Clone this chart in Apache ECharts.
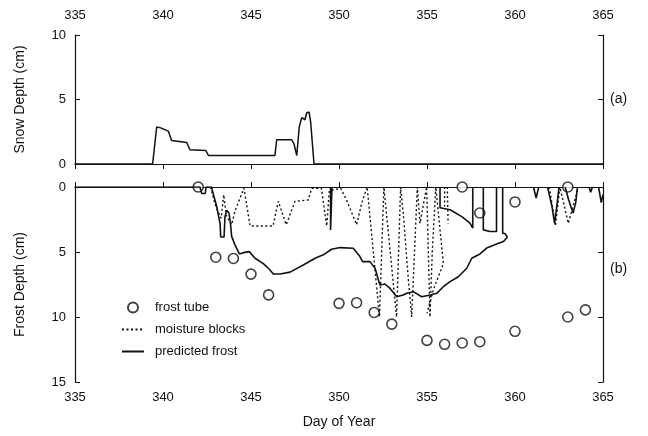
<!DOCTYPE html>
<html>
<head>
<meta charset="utf-8">
<script src="https://cdn.jsdelivr.net/npm/echarts@6/dist/echarts.min.js"></script>
<style>
  html, body { margin: 0; padding: 0; background: #fff; }
  #chart { width: 648px; height: 436px; }
</style>
</head>
<body>
<div id="chart"></div>
<script>
// x ticks shared by both panels
var dayTicks = [335, 340, 345, 350, 355, 360, 365];

// (a) snow depth
var snowDay   = [335, 339.41, 339.64, 339.87, 340.3, 340.49, 341.35, 341.53, 342.44, 342.58, 346.36, 346.46, 347.31, 347.44, 347.6, 347.74, 347.88, 348.07, 348.16, 348.3, 348.39, 348.58, 365];
var snowDepth = [0, 0, 2.86, 2.8, 2.55, 1.83, 1.67, 1.1, 1.05, 0.66, 0.66, 1.88, 1.88, 1.57, 0.66, 2.86, 3.59, 3.43, 3.95, 4.03, 3.25, 0, 0];

// (b) frost tube readings
var tubeDay   = [342, 343, 344, 345, 346, 350, 351, 352, 353, 355, 356, 357, 357, 358, 358, 360, 360, 363, 363, 364];
var tubeDepth = [0, 5.4, 5.5, 6.7, 8.3, 8.95, 8.9, 9.65, 10.55, 11.8, 12.1, 12.0, 0, 11.9, 2.0, 11.1, 1.15, 10.0, 0, 9.45];

// moisture blocks (null = pen up)
var blockDay = [342.7, 343.0, 343.3, 343.45, 343.6, 343.9, 344.1, 344.6, 344.95, 346.25, 346.55, 347.0, 347.5, 348.25, 348.45, 349.0, 349.3, 349.45, 350.1, 350.43, 351.0, 351.3, 351.6, 352.3, 352.55, 353.27, 353.5, 353.65, 353.94, 354.13, 354.45, 354.6, 354.98, 355.17, 355.3, 355.5, 355.93, 355.36, 355.0, null,
                356.0, 356.0, null, 356.15, 356.2, null,
                361.95, 362.3, 362.55, 363.03, 363.6];
var blockDepth = [0, 1.5, 2.4, 0.6, 2.2, 2.9, 1.8, 0.1, 3.0, 3.0, 1.1, 2.9, 1.1, 1.0, 0.1, 0.1, 3.0, 0.3, 0.1, 1.0, 2.9, 1.2, 0, 10, 0, 10, 0, 2.0, 7.1, 10, 0, 2.8, 0, 10, 5, 0, 5.9, 7.9, 9.7, null,
                  0, 1.5, null, 0, 2.8, null,
                  0, 3.0, 0, 2.8, 0];

// predicted frost (null = pen up)
var predDay = [335, 342.1, 342.2, 342.4, 342.45, 342.75, 343.05, 343.24, 343.28, 343.47, 343.52, 343.62, 343.75, 343.85, 343.9, 344.09, 344.34, 344.57, 344.9, 345.23, 345.7, 346.04, 346.27, 346.65, 347.22, 347.97, 348.64, 349.11, 349.58, 350.06, 350.81, 351.19, 351.34, 351.76, 352.05, 352.24, 352.33, 352.61, 352.9, 353.28, 353.65, 353.85, 354.22, 354.7, 355.17, 355.55, 355.93, 356.31, 356.78, 357.26, 357.54, 358.01, 358.39, 358.96, 359.34, 359.56, 359.45, 359.3, 359.3, null,
               349.52, 349.52, 349.6, 349.6, null,
               355.74, 355.74, 356.31, 357.0, 357.44, 357.6, 357.6, null,
               358.2, 358.2, 358.58, 358.95, 358.95, null,
               361.05, 361.2, 361.35, null,
               361.85, 362.1, 362.25, 362.4, 362.5, null,
               362.85, 363.05, 363.3, 363.45, 363.55, null,
               364.2, 364.3, 364.4, null,
               364.75, 364.9, 365];
var predDepth = [0, 0, 0.5, 0.5, 0, 0, 1.5, 2.8, 3.85, 3.85, 2.3, 1.8, 2.0, 3.0, 3.8, 4.45, 5.15, 5.05, 4.97, 5.48, 5.9, 6.33, 6.69, 6.69, 6.55, 6.0, 5.48, 5.22, 4.79, 4.66, 4.71, 5.35, 5.74, 5.74, 6.25, 7.15, 7.54, 7.46, 7.8, 8.44, 8.31, 8.18, 8.05, 8.44, 8.31, 8.18, 7.67, 7.28, 6.9, 6.25, 5.48, 5.15, 4.7, 4.38, 4.2, 3.86, 3.6, 3.55, 0, null,
                 0, 3.3, 3.3, 0, null,
                 0, 1.6, 1.75, 2.3, 2.78, 3.16, 0, null,
                 0, 3.3, 3.42, 3.42, 0, null,
                 0, 0.85, 0, null,
                 0, 1.5, 2.8, 1.2, 0, null,
                 0, 1.0, 2.0, 1.2, 0, null,
                 0, 0.4, 0, null,
                 0, 1.2, 0.6];

function pairs(xs, ys) {
  return xs.map(function (x, i) {
    return (x === null || ys[i] === null) ? ['-', '-'] : [x, ys[i]];
  });
}

var ink = '#111';
var font = 'Liberation Sans';

function xAx(grid, pos, labels, extra) {
  return Object.assign({
    type: 'value', gridIndex: grid, position: pos,
    min: dayTicks[0], max: dayTicks[dayTicks.length - 1], interval: 5,
    axisLine: { show: true, lineStyle: { color: ink, width: 1.2 } },
    axisTick: { show: labels, inside: true, length: 5, lineStyle: { color: ink } },
    axisLabel: { show: labels, color: ink, fontFamily: font, fontSize: 13, margin: 9 },
    splitLine: { show: false }
  }, extra || {});
}

function yAx(grid, pos, max, labels, extra) {
  return Object.assign({
    type: 'value', gridIndex: grid, position: pos,
    min: 0, max: max, interval: 5, inverse: grid === 1,
    axisLine: { show: true, onZero: false, lineStyle: { color: ink, width: 1.2 } },
    axisTick: { show: true, inside: true, length: 5, lineStyle: { color: ink } },
    axisLabel: { show: labels, color: ink, fontFamily: font, fontSize: 13, margin: 9 },
    splitLine: { show: false }
  }, extra || {});
}

// no marker on the line entries of the legend
var hideMark = { color: 'rgba(0,0,0,0)', borderWidth: 0, opacity: 0 };

var chart = echarts.init(document.getElementById('chart'), null, { renderer: 'canvas' });

chart.setOption({
  backgroundColor: '#fff',
  animation: false,
  grid: [
    { left: 75, right: 45, top: 35, height: 129 },
    { left: 75, right: 45, top: 187, height: 195 }
  ],
  xAxis: [
    xAx(0, 'top', true, { axisLabel: { color: ink, fontFamily: font, fontSize: 13, margin: 13 } }),
    xAx(0, 'bottom', false),
    xAx(1, 'bottom', true, {
      name: 'Day of Year', nameLocation: 'middle', nameGap: 33,
      nameTextStyle: { color: ink, fontFamily: font, fontSize: 14 }
    }),
    xAx(1, 'top', false)
  ],
  yAxis: [
    yAx(0, 'left', 10, true, {
      name: 'Snow Depth (cm)', nameLocation: 'middle', nameGap: 48,
      nameTextStyle: { color: ink, fontFamily: font, fontSize: 14 }
    }),
    yAx(0, 'right', 10, false),
    yAx(1, 'left', 15, true, {
      name: 'Frost Depth (cm)', nameLocation: 'middle', nameGap: 48,
      nameTextStyle: { color: ink, fontFamily: font, fontSize: 14 }
    }),
    yAx(1, 'right', 15, false)
  ],
  legend: {
    orient: 'vertical', left: 116, top: 296,
    itemWidth: 22, itemHeight: 10, itemGap: 9,
    data: [
      { name: 'frost tube' },
      { name: 'moisture blocks', itemStyle: hideMark },
      { name: 'predicted frost', itemStyle: hideMark }
    ],
    textStyle: { color: ink, fontFamily: font, fontSize: 13, padding: [0, 0, 0, 6] }
  },
  graphic: [
    { type: 'text', left: 610, top: 92, style: { text: '(a)', fill: ink, font: '14px ' + font } },
    { type: 'text', left: 610, top: 262, style: { text: '(b)', fill: ink, font: '14px ' + font } }
  ],
  series: [
    {
      name: 'snow', type: 'line', xAxisIndex: 0, yAxisIndex: 0,
      data: pairs(snowDay, snowDepth), symbol: 'none',
      lineStyle: { color: ink, width: 1.5 }
    },
    {
      name: 'frost tube', type: 'scatter', xAxisIndex: 2, yAxisIndex: 2,
      data: pairs(tubeDay, tubeDepth), symbol: 'circle', symbolSize: 10,
      itemStyle: { color: '#fff', borderColor: ink, borderWidth: 1.6 }
    },
    {
      name: 'moisture blocks', type: 'line', xAxisIndex: 2, yAxisIndex: 2,
      data: pairs(blockDay, blockDepth), symbol: 'none', connectNulls: false,
      itemStyle: { color: ink },
      lineStyle: { color: ink, width: 1.4, type: [2, 2.5] }
    },
    {
      name: 'predicted frost', type: 'line', xAxisIndex: 2, yAxisIndex: 2,
      data: pairs(predDay, predDepth), symbol: 'none', connectNulls: false,
      itemStyle: { color: ink },
      lineStyle: { color: ink, width: 1.6 }
    }
  ]
});
</script>
</body>
</html>
